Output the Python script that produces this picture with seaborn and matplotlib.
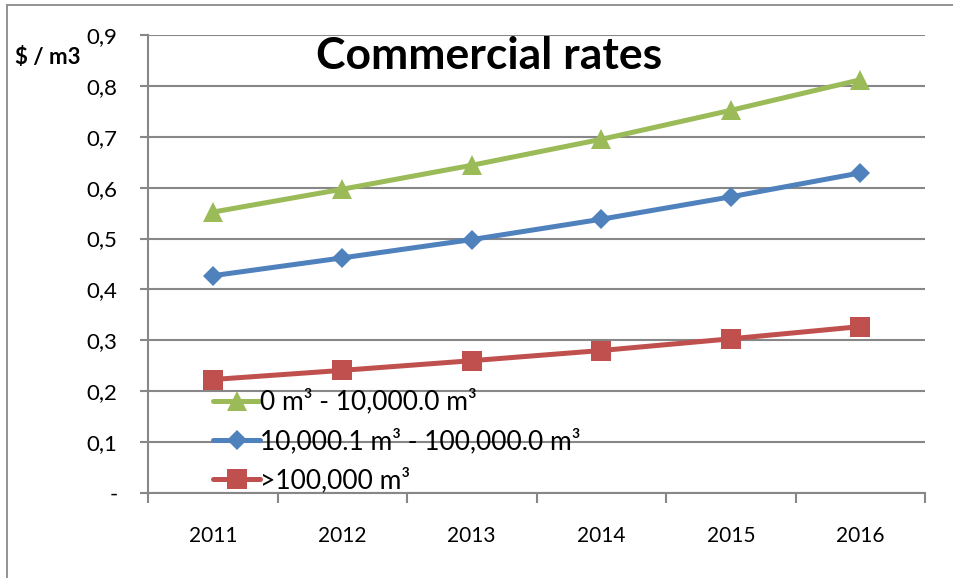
import matplotlib
matplotlib.use("Agg")
import matplotlib.pyplot as plt
from matplotlib.lines import Line2D
import seaborn as sns
import pandas as pd
import numpy as np

years = ["2011", "2012", "2013", "2014", "2015", "2016"]
series_names = ["0 m³ - 10,000.0 m³", "10,000.1 m³ - 100,000.0 m³", ">100,000 m³"]
tier_low = [0.552, 0.597, 0.644, 0.695, 0.752, 0.812]
tier_mid = [0.427, 0.462, 0.498, 0.538, 0.582, 0.629]
tier_high = [0.223, 0.241, 0.260, 0.280, 0.303, 0.327]
y_ticks = [0.0, 0.1, 0.2, 0.3, 0.4, 0.5, 0.6, 0.7, 0.8, 0.9]
y_tick_labels = ["-", "0,1", "0,2", "0,3", "0,4", "0,5", "0,6", "0,7", "0,8", "0,9"]

colors = ["#9BBB59", "#4F81BD", "#C0504D"]
markers = ["^", "D", "s"]
msizes = [14, 10, 14]

sns.set_theme(style="white")
plt.rcParams["font.family"] = ["Lato", "DejaVu Sans"]
plt.rcParams["text.color"] = "black"
plt.rcParams["xtick.labelcolor"] = "black"
plt.rcParams["ytick.labelcolor"] = "black"

fig = plt.figure(figsize=(9.54, 5.78), dpi=100)
ax = fig.add_axes([148 / 954, 1 - 493 / 578, (925 - 148) / 954, (493 - 35) / 578])

pos = np.arange(len(years))
for name, vals, c, m, ms in zip(series_names, [tier_low, tier_mid, tier_high], colors, markers, msizes):
    df = pd.DataFrame({"pos": pos, "value": vals})
    sns.lineplot(data=df, x="pos", y="value", ax=ax, color=c, linewidth=3.6,
                 marker=m, markersize=ms, markeredgewidth=0, label=name)

grid_c = "#878787"
ax.set_xlim(-0.5, len(years) - 0.5)
ax.set_ylim(0, 0.9)
ax.set_yticks(y_ticks)
ax.set_yticklabels(y_tick_labels)
ax.yaxis.grid(True, color=grid_c, linewidth=1.5)
ax.set_axisbelow(True)
ax.set_xticks(np.arange(-0.5, len(years), 1.0))
ax.set_xticklabels([])
ax.set_xticks(pos, minor=True)
ax.set_xticklabels(years, minor=True)
ax.tick_params(axis="x", which="major", length=7, width=1.5, color=grid_c, direction="out", bottom=True)
ax.tick_params(axis="x", which="minor", length=0, pad=24, labelsize=15)
ax.tick_params(axis="y", length=6, width=1.5, color=grid_c, direction="out", left=True, labelsize=16, pad=16)
for side in ["top", "right"]:
    ax.spines[side].set_visible(False)
for side in ["left", "bottom"]:
    ax.spines[side].set_color(grid_c)
    ax.spines[side].set_linewidth(1.5)
ax.set_xlabel("")
ax.set_ylabel("")

leg = ax.legend(loc="upper left", bbox_to_anchor=(0.07, 0.25), frameon=False, fontsize=19,
                handlelength=1.8, handletextpad=0.0, labelspacing=0.52, borderaxespad=0)
for t in leg.get_texts():
    t.set_color("black")

fig.text(489 / 954, 1 - 56 / 578, "Commercial rates", ha="center", va="center",
         fontsize=32, fontweight="bold")
fig.text(15 / 954, 1 - 58 / 578, "$ / m3", ha="left", va="center", fontsize=16, fontweight="bold")

# outer chart frame (top and left edges)
fig.add_artist(Line2D([7 / 954, 7 / 954], [0, 1 - 5 / 578], transform=fig.transFigure, color="#8a8a8a", linewidth=1.3))
fig.add_artist(Line2D([7 / 954, 1], [1 - 5 / 578, 1 - 5 / 578], transform=fig.transFigure, color="#8a8a8a", linewidth=1.3))

fig.savefig("out.png", dpi=100)
